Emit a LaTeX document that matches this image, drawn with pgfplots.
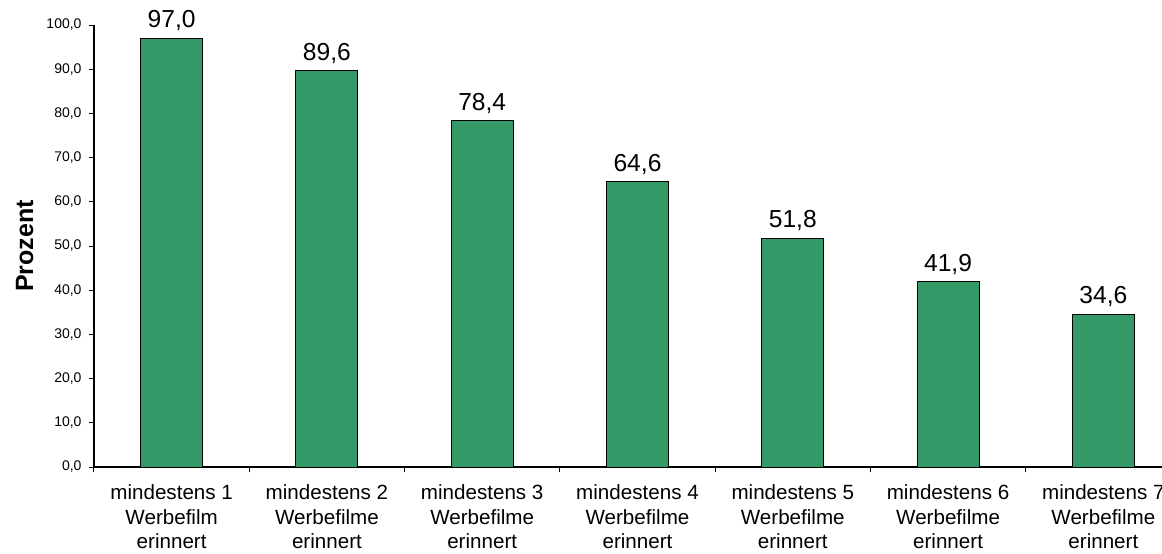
\documentclass[border=0pt]{standalone}
\usepackage{fontspec}
\setmainfont{Liberation Sans}
\usepackage{pgfplots}
\pgfplotsset{compat=1.18}
\definecolor{bargreen}{RGB}{51,153,102}
\begin{document}
\begin{tikzpicture}
\useasboundingbox (-47pt,-43pt) rectangle (534pt,233.5pt);
\clip (-47pt,-43pt) rectangle (534pt,233.5pt);
\begin{axis}[
  at={(0pt,0pt)}, anchor=south west,
  scale only axis, width=543.5pt, height=221pt,
  xmin=-0.5, xmax=6.5, ymin=0, ymax=100,
  axis x line*=bottom, axis y line*=left,
  axis line style={line width=0.9pt, -},
  /pgf/number format/assume math mode=true,
  ytick={0,10,20,30,40,50,60,70,80,90,100},
  yticklabel style={font=\fontsize{7}{8}\selectfont, /pgf/number format/.cd, fixed, fixed zerofill, precision=1, use comma},
  tick align=outside,
  major tick length=2.7pt,
  tick style={line width=0.5pt, black},
  xtick={-0.5,0.5,1.5,2.5,3.5,4.5,5.5,6.5},
  xticklabels={},
  extra x ticks={0,1,2,3,4,5,6},
  extra x tick labels={{mindestens 1\\Werbefilm\\erinnert},{mindestens 2\\Werbefilme\\erinnert},{mindestens 3\\Werbefilme\\erinnert},{mindestens 4\\Werbefilme\\erinnert},{mindestens 5\\Werbefilme\\erinnert},{mindestens 6\\Werbefilme\\erinnert},{mindestens 7\\Werbefilme\\erinnert}},
  extra x tick style={major tick length=0pt, xticklabel style={align=center, font=\fontsize{10.3}{12}\selectfont, anchor=north, yshift=-5.5pt}},
  ylabel={Prozent},
  ylabel style={at={(axis description cs:-0.0561,0.5)}, anchor=base, inner sep=0pt, font=\bfseries\fontsize{12.5}{14}\selectfont},
  ybar, bar width=0.4,
  nodes near coords,
  every node near coord/.append style={font=\fontsize{12.3}{14}\selectfont, black, /pgf/number format/.cd, fixed, fixed zerofill, precision=1, use comma},
  clip=false,
]
\addplot[fill=bargreen, draw=black, line width=0.5pt] coordinates {
(0,97.0) (1,89.6) (2,78.4) (3,64.6) (4,51.8) (5,41.9) (6,34.6)
};
\end{axis}
\end{tikzpicture}
\end{document}
